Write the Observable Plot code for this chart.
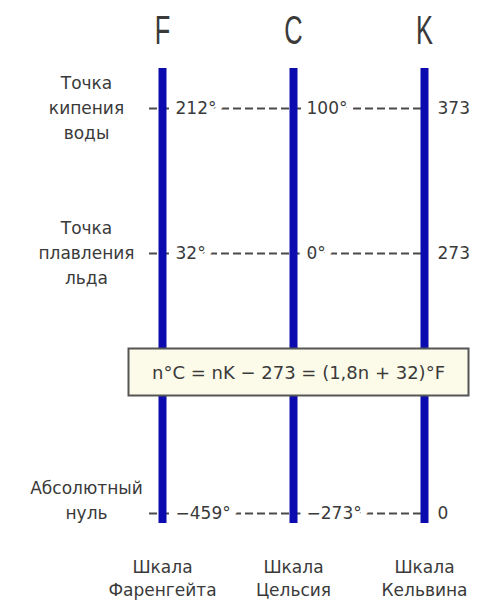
<!DOCTYPE html>
<html>
<head>
<meta charset="utf-8">
<script src="https://cdn.jsdelivr.net/npm/d3@7"></script>
<script src="https://cdn.jsdelivr.net/npm/@observablehq/plot@0.6"></script>
<style>
  html, body { margin: 0; padding: 0; background: #ffffff; }
</style>
</head>
<body>
<div id="chart"></div>
<script>
// ---- data ----
const scaleNames = ["F", "C", "K"];
const scaleTitles = ["Шкала\nФаренгейта", "Шкала\nЦельсия", "Шкала\nКельвина"];

const rowAbove = ["Точка", "Точка", "Абсолютный"];
const rowAt = ["кипения", "плавления", "нуль"];
const rowBelow = ["воды", "льда", ""];

const celsius = [100, 0, -273];
const fahrenheit = [212, 32, -459];
const kelvin = [373, 273, 0];

const formula = "n°C = nK − 273 = (1,8n + 32)°F";

// ---- derived tables ----
const fmt = v => (v < 0 ? "−" + Math.abs(v) : String(v));
const rows = celsius.map((c, i) => ({c, above: rowAbove[i], at: rowAt[i], below: rowBelow[i]}));
const values = [];
celsius.forEach((c, i) => {
  values.push({scale: "F", c, text: fmt(fahrenheit[i]) + "°"});
  values.push({scale: "C", c, text: fmt(celsius[i]) + "°"});
  values.push({scale: "K", c, text: fmt(kelvin[i])});
});
const scales = scaleNames.map((s, i) => ({scale: s, title: scaleTitles[i]}));

const ink = "#3a3a3a";
const labelFont = "DejaVu Sans, Verdana, sans-serif";

const chart = Plot.plot({
  width: 479,
  height: 603,
  margin: 0,
  style: {background: "#ffffff", color: ink, fontFamily: labelFont},
  x: {type: "point", domain: scaleNames, range: [162, 424], padding: 0, axis: null},
  y: {type: "linear", domain: [-273, 0, 100], range: [513, 253, 108], axis: null},
  marks: [
    // dashed connectors between the scales (with short tick left of F)
    Plot.ruleY(rows, {y: "c", x1: () => "F", x2: () => "K", insetLeft: -13,
      stroke: "#4a4a4a", strokeWidth: 2, strokeDasharray: "8,4"}),
    // value labels with white halo masking the dashes under the text
    Plot.text(values, {x: "scale", y: "c", text: "text", textAnchor: "start", dx: 13,
      fontSize: 17, fill: ink, stroke: "white", strokeWidth: 16, paintOrder: "stroke",
      strokeLinejoin: "round"}),
    // vertical scale bars
    Plot.ruleX(scales, {x: "scale", y1: d3.max(celsius), y2: d3.min(celsius),
      insetTop: -40, insetBottom: -10, stroke: "#0b0bb0", strokeWidth: 8}),
    // row labels on the left
    Plot.text(rows, {x: () => "F", y: "c", text: "at", dx: -76, fontSize: 17, fill: ink, lineAnchor: "middle"}),
    Plot.text(rows, {x: () => "F", y: "c", text: "above", dx: -76, dy: -25, fontSize: 17, fill: ink, lineAnchor: "middle"}),
    Plot.text(rows, {x: () => "F", y: "c", text: "below", dx: -76, dy: 25, fontSize: 17, fill: ink, lineAnchor: "middle"}),
    // scale letters on top
    Plot.text(scales, {x: "scale", text: "scale", frameAnchor: "top", dy: 30, lineAnchor: "middle",
      fontSize: 41, fill: ink, fontFamily: "Liberation Sans, Arial, sans-serif"}),
    // scale names at the bottom
    Plot.text(scales, {x: "scale", text: "title", frameAnchor: "bottom", lineAnchor: "bottom", dy: -8,
      lineHeight: 1.35, fontSize: 17, fill: ink}),
    // formula box
    Plot.frame({fill: "#fcfbe9", stroke: "#555", strokeWidth: 2,
      insetLeft: 128, insetRight: 11, insetTop: 348, insetBottom: 208}),
    Plot.text([formula], {frameAnchor: "top-left", dx: 298, dy: 373, lineAnchor: "middle",
      textAnchor: "middle", fontSize: 18, fill: ink})
  ]
});

// narrow the thin scale letters like the original lettering
d3.select(chart).selectAll('g[font-size="41"] text').each(function() {
  const t = this.getAttribute("transform") || "";
  this.setAttribute("transform", t + " scale(0.62,1)");
});

document.getElementById("chart").appendChild(chart);
</script>
</body>
</html>
